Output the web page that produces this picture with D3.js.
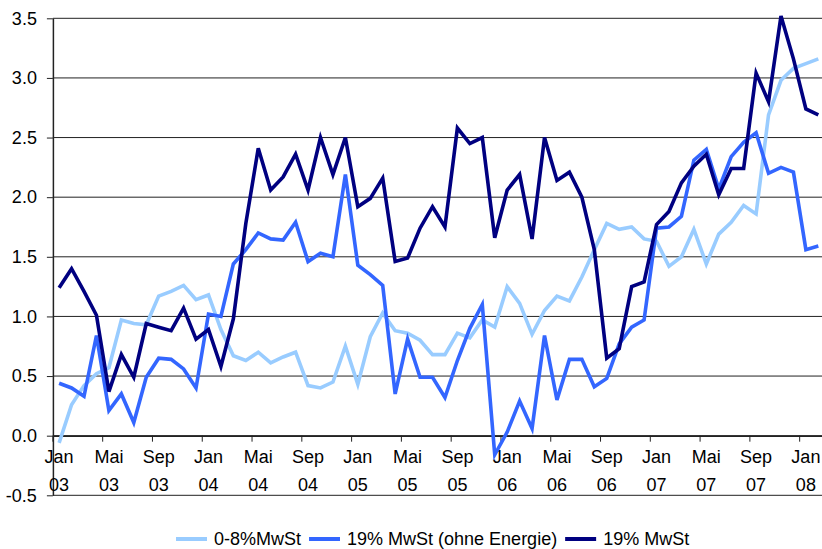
<!DOCTYPE html>
<meta charset="utf-8">
<style>
  body { margin: 0; background: #fff; }
  svg text { font-family: "Liberation Sans", Arial, sans-serif; font-size: 18px; fill: #000; }
</style>
<svg width="822" height="549"></svg>
<script src="https://d3js.org/d3.v7.min.js"></script>
<script>

// months Jan 03 .. Feb 08
var monthNames = ["Jan","Feb","Mrz","Apr","Mai","Jun","Jul","Aug","Sep","Okt","Nov","Dez"];
var years = ["03","04","05","06","07","08"];
var months = [];
years.forEach(function(y) { monthNames.forEach(function(m) { months.push(m + " " + y); }); });
months = months.slice(0, 62);

var yTicks = [-0.5, 0, 0.5, 1, 1.5, 2, 2.5, 3, 3.5];

// 0-8%MwSt
var light = [-0.06, 0.26, 0.42, 0.52, 0.57, 0.97, 0.94, 0.93, 1.17, 1.21, 1.26, 1.14,
             1.18, 0.89, 0.67, 0.63, 0.70, 0.61, 0.66, 0.70, 0.42, 0.40, 0.45, 0.75,
             0.43, 0.83, 1.03, 0.88, 0.86, 0.80, 0.68, 0.68, 0.86, 0.82, 0.97, 0.91,
             1.25, 1.11, 0.85, 1.05, 1.17, 1.13, 1.33, 1.56, 1.78, 1.73, 1.75, 1.65,
             1.63, 1.42, 1.50, 1.73, 1.44, 1.69, 1.79, 1.93, 1.86, 2.69, 2.98, 3.08,
             3.12, 3.16];

// 19% MwSt (ohne Energie)
var medium = [0.44, 0.40, 0.33, 0.84, 0.21, 0.35, 0.11, 0.49, 0.65, 0.64, 0.56, 0.40,
              1.02, 1.00, 1.44, 1.56, 1.70, 1.65, 1.64, 1.79, 1.46, 1.53, 1.50, 2.19,
              1.43, 1.35, 1.26, 0.35, 0.81, 0.49, 0.49, 0.32, 0.63, 0.90, 1.10, -0.16,
              0.03, 0.29, 0.06, 0.84, 0.30, 0.64, 0.64, 0.41, 0.48, 0.77, 0.91, 0.97,
              1.74, 1.75, 1.84, 2.31, 2.40, 2.07, 2.34, 2.46, 2.54, 2.20, 2.25, 2.21,
              1.56, 1.59];

// 19% MwSt
var dark = [1.24, 1.40, 1.21, 1.01, 0.37, 0.68, 0.49, 0.94, 0.91, 0.88, 1.07, 0.81,
            0.89, 0.58, 0.98, 1.78, 2.41, 2.06, 2.17, 2.36, 2.06, 2.50, 2.19, 2.50,
            1.92, 1.99, 2.16, 1.46, 1.49, 1.74, 1.92, 1.75, 2.58, 2.45, 2.50, 1.66,
            2.06, 2.19, 1.65, 2.50, 2.14, 2.21, 2.00, 1.56, 0.65, 0.73, 1.25, 1.29,
            1.77, 1.88, 2.12, 2.26, 2.36, 2.02, 2.24, 2.24, 3.04, 2.80, 3.52, 3.16,
            2.74, 2.69];

var series = [
  { name: "0-8%MwSt", values: light, color: "#99ccff" },
  { name: "19% MwSt (ohne Energie)", values: medium, color: "#3366ff" },
  { name: "19% MwSt", values: dark, color: "#000080" }
];

var svg = d3.select("svg"),
    width = +svg.attr("width");

var left = 52.9, step = 12.446;

var x = d3.scaleBand()
    .domain(months)
    .range([left, left + step * months.length])
    .padding(0);

var y = d3.scaleLinear()
    .domain([-0.5, 3.5])
    .range([495.3, 18.3]);

// gridlines
svg.append("g")
  .selectAll("line")
  .data(yTicks)
  .enter().append("line")
    .attr("x1", left)
    .attr("x2", width)
    .attr("y1", function(d) { return y(d); })
    .attr("y2", function(d) { return y(d); })
    .attr("stroke", "#222")
    .attr("stroke-width", 1);

// y axis
var yAxis = svg.append("g")
    .attr("transform", "translate(" + left + ",0)")
    .call(d3.axisLeft(y).tickValues(yTicks).tickFormat(d3.format(".1f")).tickSize(6).tickSizeOuter(0).tickPadding(10));
yAxis.select(".domain").attr("stroke", "#222").attr("stroke-width", 1.5);
yAxis.selectAll(".tick line").attr("stroke", "#222");
yAxis.selectAll("text").attr("font-size", null).attr("font-family", null).text(function(d) { return d3.format(".1f")(d).replace("−", "-"); });

// x axis at zero
var labelled = months.filter(function(d, i) { return i % 4 === 0; });
var xAxis = svg.append("g")
    .attr("transform", "translate(0," + y(0) + ")")
    .call(d3.axisBottom(x).tickValues(labelled).tickSize(0).tickSizeOuter(0).tickPadding(0));
xAxis.select(".domain").attr("stroke", "#222").attr("stroke-width", 1.5);
xAxis.selectAll("text")
    .attr("font-size", null).attr("font-family", null)
    .attr("y", 0).attr("dy", null)
    .text(null)
    .each(function(d) {
      var parts = d.split(" ");
      var t = d3.select(this);
      t.append("tspan").attr("x", 0).attr("y", 27).text(parts[0]);
      t.append("tspan").attr("x", 0).attr("y", 55).text(parts[1]);
    });
xAxis.append("g").selectAll("line")
  .data(labelled)
  .enter().append("line")
    .attr("x1", function(d) { return x(d); })
    .attr("x2", function(d) { return x(d); })
    .attr("y1", 0)
    .attr("y2", 6)
    .attr("stroke", "#222");

// lines
var line = d3.line()
    .x(function(d, i) { return x(months[i]) + x.bandwidth() / 2; })
    .y(function(d) { return y(d); });

svg.append("g")
  .selectAll("path")
  .data(series)
  .enter().append("path")
    .attr("d", function(s) { return line(s.values); })
    .attr("fill", "none")
    .attr("stroke", function(s) { return s.color; })
    .attr("stroke-width", 3.6)
    .attr("stroke-linejoin", "miter");

// legend
var legend = svg.append("g");
var lx = 176, ly = 539;
series.forEach(function(s) {
  legend.append("line")
    .attr("x1", lx).attr("x2", lx + 31)
    .attr("y1", ly).attr("y2", ly)
    .attr("stroke", s.color).attr("stroke-width", 4);
  var t = legend.append("text")
    .attr("x", lx + 38).attr("y", ly + 6)
    .text(s.name);
  lx = lx + 38 + t.node().getComputedTextLength() + 8;
});

</script>
